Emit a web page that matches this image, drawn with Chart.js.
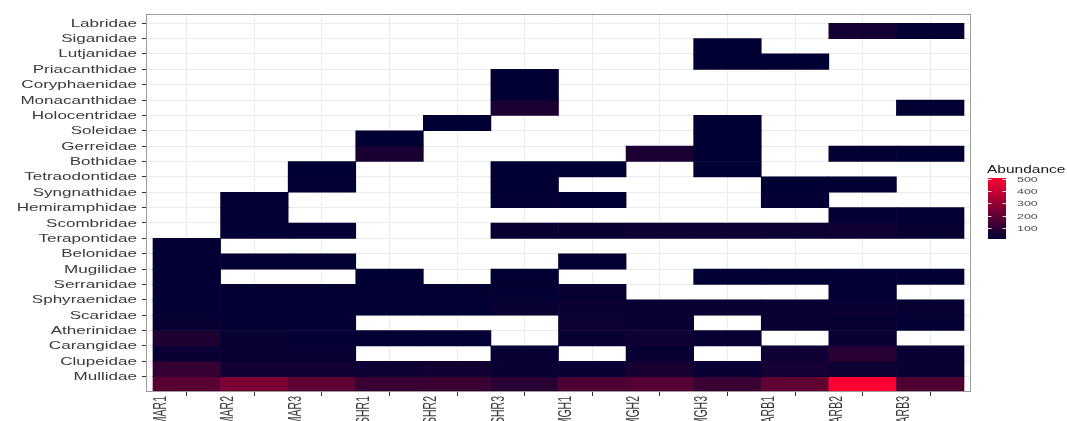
<!DOCTYPE html>
<html>
<head>
<meta charset="utf-8">
<script src="https://cdn.jsdelivr.net/npm/chart.js@4.4.1/dist/chart.umd.min.js"></script>
<style>
  html, body { margin: 0; padding: 0; background: #ffffff; }
  #wrap { width: 1067px; height: 421px; overflow: hidden; }
</style>
</head>
<body>
<div id="wrap"><canvas id="c" width="1067" height="421"></canvas></div>
<script>
// ---------- data ----------
const families = ['Labridae','Siganidae','Lutjanidae','Priacanthidae','Coryphaenidae','Monacanthidae',
  'Holocentridae','Soleidae','Gerreidae','Bothidae','Tetraodontidae','Syngnathidae','Hemiramphidae',
  'Scombridae','Terapontidae','Belonidae','Mugilidae','Serranidae','Sphyraenidae','Scaridae',
  'Atherinidae','Carangidae','Clupeidae','Mullidae'];
const sites = ['MAR1','MAR2','MAR3','SHR1','SHR2','SHR3','MGH1','MGH2','MGH3','ARB1','ARB2','ARB3'];
const n = null;
// values per family, in site order
const labridae       = [n,n,n,n,n,n,n,n,n,n,50,18];
const siganidae      = [n,n,n,n,n,n,n,n,14,n,n,n];
const lutjanidae     = [n,n,n,n,n,n,n,n,14,12,n,n];
const priacanthidae  = [n,n,n,n,n,12,n,n,n,n,n,n];
const coryphaenidae  = [n,n,n,n,n,14,n,n,n,n,n,n];
const monacanthidae  = [n,n,n,n,n,65,n,n,n,n,n,16];
const holocentridae  = [n,n,n,n,14,n,n,n,12,n,n,n];
const soleidae       = [n,n,n,14,n,n,n,n,14,n,n,n];
const gerreidae      = [n,n,n,60,n,n,n,65,14,n,16,14];
const bothidae       = [n,n,14,n,n,12,14,n,12,n,n,n];
const tetraodontidae = [n,n,16,n,n,14,n,n,n,14,16,n];
const syngnathidae   = [n,16,n,n,n,18,14,n,n,18,n,n];
const hemiramphidae  = [n,16,n,n,n,n,n,n,n,n,20,16];
const scombridae     = [n,18,20,n,n,24,28,40,40,38,42,24];
const terapontidae   = [20,n,n,n,n,n,n,n,n,n,n,n];
const belonidae      = [18,16,16,n,n,n,18,n,n,n,n,n];
const mugilidae      = [18,n,n,14,n,16,n,n,18,16,20,18];
const serranidae     = [20,18,20,18,16,20,24,n,n,n,22,n];
const sphyraenidae   = [22,22,20,20,18,26,34,30,32,28,34,24];
const scaridae       = [24,22,20,n,n,n,38,34,n,24,26,22];
const atherinidae    = [70,24,22,20,20,n,28,40,24,n,30,n];
const carangidae     = [30,24,24,n,n,26,n,24,n,40,90,30];
const clupeidae      = [115,45,42,40,48,32,30,58,30,55,38,34];
const mullidae       = [185,250,195,120,130,90,160,175,120,200,505,165];
const legendTicks = [100,200,300,400,500];

const rows = [labridae,siganidae,lutjanidae,priacanthidae,coryphaenidae,monacanthidae,holocentridae,
  soleidae,gerreidae,bothidae,tetraodontidae,syngnathidae,hemiramphidae,scombridae,terapontidae,
  belonidae,mugilidae,serranidae,sphyraenidae,scaridae,atherinidae,carangidae,clupeidae,mullidae];

// ---------- colour scale ----------
const allVals = rows.flat().filter(v => v !== null);
const vMin = Math.min(...allVals), vMax = Math.max(...allVals);
const LOW = [0, 0, 51], HIGH = [255, 0, 51];
function colorFor(v) {
  const t = Math.max(0, Math.min(1, (v - vMin) / (vMax - vMin)));
  const c = LOW.map((l, i) => Math.round(l + (HIGH[i] - l) * t));
  return `rgb(${c[0]},${c[1]},${c[2]})`;
}

// ---------- datasets ----------
const N = families.length;
const datasets = rows.map((vals, k) => ({
  label: families[k],
  data: vals.map((v, j) => v === null ? null : { x: j + 1, y: [N - 1 - k, N - k], v })
            .filter(d => d !== null),
  backgroundColor: ctx => ctx.raw ? colorFor(ctx.raw.v) : 'rgba(0,0,0,0)',
  borderWidth: 0,
  grouped: false,
  barPercentage: 1,
  categoryPercentage: 1
}));

const SX = 1.55; // horizontal stretch of the original picture's text
const FONT = '"Liberation Sans", Arial, sans-serif';
function sText(ctx, text, x, y, align, size, color) {
  ctx.save();
  ctx.translate(x, y);
  ctx.scale(SX, 1);
  ctx.font = `${size}px ${FONT}`;
  ctx.fillStyle = color;
  ctx.textAlign = align;
  ctx.textBaseline = 'middle';
  ctx.fillText(text, 0, 0);
  ctx.restore();
}

const decor = {
  id: 'decor',
  afterDatasetsDraw(chart) {
    const { ctx, chartArea: a } = chart;
    ctx.save();
    ctx.strokeStyle = '#9c9c9c';
    ctx.lineWidth = 1;
    ctx.strokeRect(Math.round(a.left) + 0.5, Math.round(a.top) + 0.5,
                   Math.round(a.right - a.left) - 1, Math.round(a.bottom - a.top) - 1);
    ctx.restore();
  },
  afterDraw(chart) {
    const { ctx } = chart;
    const xs = chart.scales.x, ys = chart.scales.y;
    // y labels
    families.forEach((f, k) => {
      const y = ys.getPixelForValue(N - k);
      sText(ctx, f, 137, y + 0.5, 'right', 11, '#3a3a3a');
    });
    // x labels (rotated, clipped by the canvas bottom)
    sites.forEach((s, j) => {
      const x = xs.getPixelForValue(j + 1) - 26;
      ctx.save();
      ctx.translate(x, 396);
      ctx.scale(1.75, 1);
      ctx.rotate(-Math.PI / 2);
      ctx.font = `10.5px ${FONT}`;
      ctx.fillStyle = '#3a3a3a';
      ctx.textAlign = 'right';
      ctx.textBaseline = 'middle';
      ctx.fillText(s, 0, 0);
      ctx.restore();
    });
    // colour bar legend
    const bx = 988, bw = 18, bTop = 178, bBot = 239;
    sText(ctx, 'Abundance', bx - 1, 170, 'left', 10, '#1a1a1a');
    const g = ctx.createLinearGradient(0, bBot, 0, bTop);
    for (let i = 0; i <= 10; i++) g.addColorStop(i / 10, colorFor(vMin + (vMax - vMin) * i / 10));
    ctx.fillStyle = g;
    ctx.fillRect(bx, bTop, bw, bBot - bTop);
    const yv = v => bBot - (v - vMin) / (vMax - vMin) * (bBot - bTop);
    legendTicks.forEach(v => {
      const y = Math.round(yv(v)) + 0.5;
      ctx.save();
      ctx.strokeStyle = 'rgba(255,255,255,0.85)';
      ctx.lineWidth = 1;
      ctx.beginPath();
      ctx.moveTo(bx, y); ctx.lineTo(bx + 3.5, y);
      ctx.moveTo(bx + bw - 3.5, y); ctx.lineTo(bx + bw, y);
      ctx.stroke();
      ctx.restore();
      sText(ctx, String(v), 1017, y, 'left', 8, '#4a4a4a');
    });
  }
};

const colW = 67.58;
new Chart(document.getElementById('c'), {
  type: 'bar',
  data: { datasets },
  options: {
    responsive: false,
    animation: false,
    events: [],
    layout: { padding: { top: 14, right: 96, left: 0, bottom: 0 } },
    plugins: { legend: { display: false }, tooltip: { enabled: false } },
    scales: {
      x: {
        type: 'linear',
        offset: false,
        min: 0.5 - 7 / colW,
        max: sites.length + 0.5 + 7 / colW,
        afterBuildTicks: s => { s.ticks = sites.map((_, i) => ({ value: i + 1 })); },
        afterFit: s => { s.height = 29; },
        ticks: { display: false },
        grid: { offset: false, color: '#ebebeb', tickColor: '#333333', tickLength: 4, lineWidth: 1 },
        border: { display: false }
      },
      y: {
        type: 'linear',
        offset: false,
        min: 0,
        max: N + 0.6,
        afterBuildTicks: s => { s.ticks = families.map((_, i) => ({ value: i + 1 })); },
        afterFit: s => { s.width = 146; },
        ticks: { display: false },
        grid: { offset: false, color: '#ebebeb', tickColor: '#333333', tickLength: 4, lineWidth: 1 },
        border: { display: false }
      }
    }
  },
  plugins: [decor]
});
</script>
</body>
</html>
